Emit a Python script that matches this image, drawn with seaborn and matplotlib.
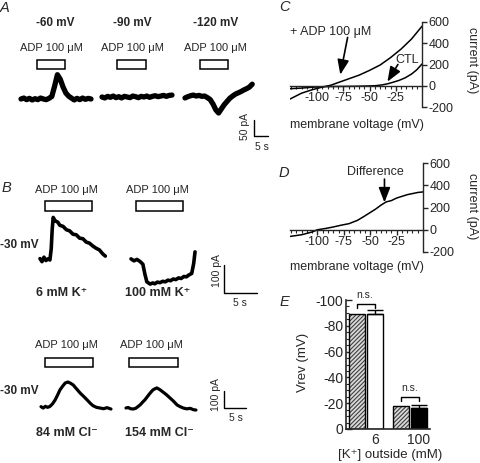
import numpy as np
import pandas as pd
import matplotlib.pyplot as plt
import seaborn as sns
from matplotlib.patches import Rectangle
from matplotlib.ticker import MultipleLocator
from matplotlib.transforms import blended_transform_factory

sns.set_style('ticks')
plt.rcParams['font.family'] = ['Liberation Sans', 'DejaVu Sans']
plt.rcParams['axes.unicode_minus'] = False
plt.rcParams['hatch.linewidth'] = 0.8

# ----- Panel A: currents at -60 / -90 / -120 mV (t in s, I in pA) -----
tA = list(range(26))
iA_60 = [0, 3, -2, 2, -3, 1, -2, 3, 0, -2, 2, 8, 40, 76, 62, 38, 19, 9, 3, -3, 2, -2, 3, -1, 2, 0]
iA_90 = [0, -3, 2, -1, 3, -2, 1, -3, 2, 0, -2, 3, 1, -2, 2, 0, 3, -1, 2, 4, 1, 3, 5, 2, 5, 6]
tA3 = list(range(25))
iA_120 = [-3, 1, 4, 6, 3, 5, 2, 3, -2, -8, -22, -40, -50, -37, -24, -14, -4, 3, 9, 13, 17, 22, 26, 31, 40]
adpA = [(5.7, 15.7), (5.4, 15.7), (5.4, 15.4)]
voltagesA = ['-60 mV', '-90 mV', '-120 mV']

# ----- Panel B top: 6 mM vs 100 mM K+ at -30 mV -----
tB1 = [0, 0.3, 0.6, 0.9, 1.2, 1.5, 1.7, 1.85, 2.0, 2.3, 2.7, 3.0, 3.5, 4.0, 4.5, 5.0,
       5.5, 6.0, 6.5, 7.0, 7.5, 8.0, 8.5, 9.0, 9.5, 9.9]
iB1 = [5, -6, 10, -2, 4, 0, 40, 110, 152, 140, 135, 124, 120, 108, 104, 92,
       90, 78, 76, 64, 60, 50, 42, 36, 22, 14]
tB2 = [0, 0.45, 0.9, 1.35, 1.8, 2.1, 2.4, 2.9, 3.3, 3.6, 4.0, 4.4, 4.8, 5.2, 5.6, 6.0,
       6.4, 6.8, 7.2, 7.6, 8.0, 8.4, 8.8, 9.2, 9.5, 9.7]
iB2 = [4, -3, 2, -5, -15, -50, -78, -86, -82, -85, -79, -81, -76, -78, -72, -74,
       -68, -70, -64, -66, -59, -60, -53, -48, -12, 29]
adpB = [(0.8, 7.9), (0.8, 7.9)]

# ----- Panel B bottom: 84 mM vs 154 mM Cl- -----
tC1 = [0, 0.5, 1.0, 1.5, 2.0, 2.6, 3.2, 3.8, 4.3, 4.9, 5.5, 6.1, 6.7, 7.3, 8.1, 8.9,
       9.7, 10.5, 11.2, 11.8, 12.6, 13.4, 14.2, 15.0, 15.9]
iC1 = [2, -6, 4, -2, 3, 18, 41, 72, 100, 122, 141, 147, 140, 130, 106, 82,
       62, 41, 22, 8, -2, -6, -10, -4, -12]
tC2 = [0, 0.5, 1.0, 1.6, 2.2, 2.7, 3.2, 3.8, 4.3, 4.8, 5.4, 6.1, 6.5, 7.0, 7.7, 8.4,
       9.2, 10.0, 10.8, 11.6, 12.3, 13.0, 13.8, 14.6, 15.3, 15.9]
iC2 = [0, 3, -4, -6, -2, 8, 18, 35, 48, 65, 85, 106, 112, 118, 108, 94,
       78, 59, 40, 18, 8, 0, -5, -2, -10, -12]
adpC = [(0.9, 11.8), (0.7, 11.8)]

# ----- Panel C / D: I-V curves (mV, pA) -----
v_ctl = [-126, -115, -105, -95, -85, -75, -65, -55, -45, -38, -33, -28, -22, -16, -10, -5, 0]
i_ctl = [-28, -22, -14, -9, -7, -6, -5, -3, 0, 8, 18, 32, 50, 75, 110, 150, 205]
v_adp = [-126, -115, -105, -95, -87, -80, -70, -60, -50, -40, -30, -20, -10, 0]
i_adp = [-125, -70, -38, -12, 5, 30, 65, 100, 145, 195, 265, 345, 440, 560]
v_diff = [-126, -115, -105, -100, -92, -85, -78, -70, -62, -55, -50, -45, -40, -35,
          -30, -25, -20, -15, -10, -5, 0]
i_diff = [-60, -45, -20, 0, 12, 25, 40, 55, 85, 125, 155, 185, 220, 250,
          262, 285, 300, 315, 325, 335, 340]
iv_ticks = [-100, -75, -50, -25]
cur_ticks = [-200, 0, 200, 400, 600]

# ----- Panel E: reversal potentials -----
k_out = ['6', '6', '100', '100']
cond = ['CTL', 'ADP', 'CTL', 'ADP']
vrev = [-89, -89, -18, -16]
vrev_err = [0, 3, 0, 2.5]
e_ticks = [0, -20, -40, -60, -80, -100]

W, H = 480, 463
fig = plt.figure(figsize=(W / 100, H / 100), dpi=100)
ov = fig.add_axes([0, 0, 1, 1])
ov.set_xlim(0, W)
ov.set_ylim(H, 0)
ov.axis('off')
ov.set_zorder(10)


def px_axes(left, top, width, height):
    return fig.add_axes([left / W, 1 - (top + height) / H, width / W, height / H])


def draw_trace(x0, y0, t, cur, px_s, px_pA, adp, adp_y, lw):
    t_end = max(t)
    lo, hi = min(cur) - 20, max(cur) + 20
    ax = px_axes(x0, y0 - hi * px_pA, t_end * px_s, (hi - lo) * px_pA)
    sns.lineplot(x=t, y=cur, ax=ax, color='black', linewidth=lw, estimator=None, sort=False)
    ax.lines[-1].set_clip_on(False)
    ax.set_xlim(0, t_end)
    ax.set_ylim(lo, hi)
    ax.axis('off')
    tr = blended_transform_factory(ax.transData, ov.transData)
    ax.add_patch(Rectangle((adp[0], adp_y[0]), adp[1] - adp[0], adp_y[1] - adp_y[0],
                           transform=tr, fill=False, ec='black', lw=1.1, clip_on=False))
    return ax


def scale_bar(ax, x0, y0, px_s, px_pA, bx, by, sec, pA):
    ts = (bx - x0) / px_s
    iy = (y0 - by) / px_pA
    ax.plot([ts, ts, ts + sec], [iy + pA, iy, iy], color='black', lw=1.0, clip_on=False)


txt = dict(ha='center', va='center')

# Panel A
ov.text(5, 8, 'A', fontsize=10.5, style='italic', **txt)
pxA, paA = 2.8, 0.32
rowA = [(21, 99, tA, iA_60), (102, 97, tA, iA_90), (185, 97, tA3, iA_120)]
for (x0, y0, t, cur), adp in zip(rowA, adpA):
    axA = draw_trace(x0, y0, t, cur, pxA, paA, adp, (60, 69), 3.8)
for xc, lab in zip([55, 132, 216], voltagesA):
    ov.text(xc, 23, lab, fontsize=8.5, fontweight='bold', **txt)
for xc in [51, 132.5, 215]:
    ov.text(xc, 48, 'ADP 100 μM', fontsize=8, **txt)
scale_bar(axA, 185, 97, pxA, paA, 254, 136, 5, 50)
ov.text(245, 127, '50 pA', fontsize=7.5, rotation=90, **txt)
ov.text(262, 147, '5 s', fontsize=7.5, **txt)

# Panel B top
ov.text(6, 188, 'B', fontsize=10.5, style='italic', **txt)
pxB, paB = 6.6, 0.28
axB1 = draw_trace(40, 260, tB1, iB1, pxB, paB, adpB[0], (201, 211), 2.6)
axB2 = draw_trace(131, 260, tB2, iB2, pxB, paB, adpB[1], (201, 211), 2.6)
for xc in [66, 157]:
    ov.text(xc, 190, 'ADP 100 μM', fontsize=8, **txt)
ov.text(0.5, 245, '-30 mV', fontsize=8.5, fontweight='bold', ha='left', va='center')
ov.text(62, 293, '6 mM K⁺', fontsize=9, fontweight='bold', **txt)
ov.text(158, 293, '100 mM K⁺', fontsize=9, fontweight='bold', **txt)
scale_bar(axB2, 131, 260, pxB, paB, 224, 293, 5, 100)
ov.text(217, 271, '100 pA', fontsize=7.5, rotation=90, **txt)
ov.text(240, 303, '5 s', fontsize=7.5, **txt)

# Panel B bottom
pxC, paC = 4.4, 0.17
axC1 = draw_trace(41, 407, tC1, iC1, pxC, paC, adpC[0], (358, 367), 2.3)
axC2 = draw_trace(126, 408, tC2, iC2, pxC, paC, adpC[1], (358, 367), 2.3)
for xc in [66, 151]:
    ov.text(xc, 345, 'ADP 100 μM', fontsize=8, **txt)
ov.text(0.5, 391, '-30 mV', fontsize=8.5, fontweight='bold', ha='left', va='center')
ov.text(67, 433, '84 mM Cl⁻', fontsize=9, fontweight='bold', **txt)
ov.text(159, 433, '154 mM Cl⁻', fontsize=9, fontweight='bold', **txt)
scale_bar(axC2, 126, 408, pxC, paC, 224, 408, 5, 100)
ov.text(216, 395, '100 pA', fontsize=7.5, rotation=90, **txt)
ov.text(236, 418, '5 s', fontsize=7.5, **txt)


def iv_axes(left, top, width, height):
    ax = px_axes(left, top, width, height)
    ax.set_xlim(-126, 0)
    ax.set_ylim(-200, 600)
    ax.patch.set_alpha(0)
    for s in ['left', 'top']:
        ax.spines[s].set_visible(False)
    ax.spines['right'].set_position(('data', 0))
    ax.spines['bottom'].set_position(('data', 0))
    for s in ['right', 'bottom']:
        ax.spines[s].set_linewidth(1.0)
    ax.yaxis.tick_right()
    ax.set_yticks(cur_ticks)
    ax.set_xticks(iv_ticks)
    ax.xaxis.set_minor_locator(MultipleLocator(5))
    ax.tick_params(axis='both', which='major', direction='out', length=3.5, width=1.0,
                   labelsize=9, pad=1)
    ax.tick_params(axis='x', which='minor', direction='out', length=2, width=0.8)
    ax.set_xlabel('')
    ax.set_ylabel('')
    return ax


arrow = dict(arrowstyle='-|>,head_length=0.9,head_width=0.35', color='black', lw=1.2,
             shrinkA=0, shrinkB=0)

# Panel C
ov.text(284, 7, 'C', fontsize=10.5, style='italic', **txt)
axIV = iv_axes(290, 22, 132, 85)
sns.lineplot(x=v_ctl, y=i_ctl, ax=axIV, color='black', linewidth=1.1, estimator=None, sort=False)
sns.lineplot(x=v_adp, y=i_adp, ax=axIV, color='black', linewidth=1.1, estimator=None, sort=False)
axIV.set_xlim(-126, 0)
axIV.annotate('', xy=(-78, 104), xytext=(-71, 455), arrowprops=arrow, annotation_clip=False)
axIV.annotate('', xy=(-33, 38), xytext=(-23, 200), arrowprops=arrow, annotation_clip=False)
ov.text(331, 32, '+ ADP 100 μM', fontsize=9, **txt)
ov.text(407, 60, 'CTL', fontsize=9, **txt)
ov.text(472, 60, 'current (pA)', fontsize=9, rotation=270, **txt)
ov.text(357, 125, 'membrane voltage (mV)', fontsize=9, **txt)

# Panel D
ov.text(284, 173, 'D', fontsize=10.5, style='italic', **txt)
axD = iv_axes(290, 163, 133, 89)
sns.lineplot(x=v_diff, y=i_diff, ax=axD, color='black', linewidth=1.1, estimator=None, sort=False)
axD.set_xlim(-126, 0)
axD.annotate('', xy=(-36.5, 245), xytext=(-36.5, 455), arrowprops=arrow, annotation_clip=False)
ov.text(375, 172, 'Difference', fontsize=9, **txt)
ov.text(472, 206, 'current (pA)', fontsize=9, rotation=270, **txt)
ov.text(357, 267, 'membrane voltage (mV)', fontsize=9, **txt)

# Panel E
ov.text(284, 302, 'E', fontsize=10.5, style='italic', **txt)
dfE = pd.DataFrame({'k': k_out, 'cond': cond, 'vrev': vrev, 'err': vrev_err})
axE = px_axes(346, 300, 84, 129)
sns.barplot(data=dfE, x='k', y='vrev', hue='cond', order=['6', '100'], hue_order=['CTL', 'ADP'],
            gap=0.1, errorbar=None, legend=False, ax=axE)
bars = sorted(axE.patches, key=lambda p: p.get_x())
looks = ['hatch', 'white', 'hatch', 'black']
for p, look in zip(bars, looks):
    if look == 'hatch':
        p.set_facecolor('0.85')
        p.set_edgecolor('0.25')
        p.set_hatch('////////')
        p.set_linewidth(0)
        axE.add_patch(Rectangle((p.get_x(), 0), p.get_width(), p.get_height(),
                                fill=False, ec='black', lw=1.0))
    else:
        p.set_facecolor(look)
        p.set_edgecolor('black')
        p.set_linewidth(1.0)
centers = [p.get_x() + p.get_width() / 2 for p in bars]
for xc, v, e in zip(centers, vrev, vrev_err):
    if e > 0:
        axE.errorbar(xc, v, yerr=[[e], [0]], color='black', lw=1.0, capsize=6, capthick=1.0)
axE.set_xlim(-0.455, 1.455)
axE.set_ylim(0, -100)
axE.set_yticks(e_ticks)
axE.yaxis.set_minor_locator(MultipleLocator(5))
axE.set_xticks([centers[1], centers[3]])
axE.set_xticklabels(['6', '100'])
axE.tick_params(axis='x', length=0, labelsize=10, pad=3)
axE.tick_params(axis='y', which='major', direction='in', length=4, width=1.0, labelsize=10, pad=2)
axE.tick_params(axis='y', which='minor', direction='in', length=2, width=0.8)
for s in ['top', 'right']:
    axE.spines[s].set_visible(False)
for s in ['left', 'bottom']:
    axE.spines[s].set_linewidth(1.2)
axE.set_xlabel('')
axE.set_ylabel('')
for (x1, x2), ytop, yleg in [((centers[0], centers[1]), -97, -94), ((centers[2], centers[3]), -25, -22)]:
    axE.plot([x1, x1, x2, x2], [yleg, ytop, ytop, yleg], color='black', lw=1.0, clip_on=False)
ov.text(365, 295, 'n.s.', fontsize=7.5, **txt)
ov.text(410, 388, 'n.s.', fontsize=7.5, **txt)
ov.text(303, 362, 'Vrev (mV)', fontsize=9.5, rotation=90, **txt)
ov.text(390, 455, '[K⁺] outside (mM)', fontsize=9.5, **txt)

fig.savefig('out.png', dpi=100)
